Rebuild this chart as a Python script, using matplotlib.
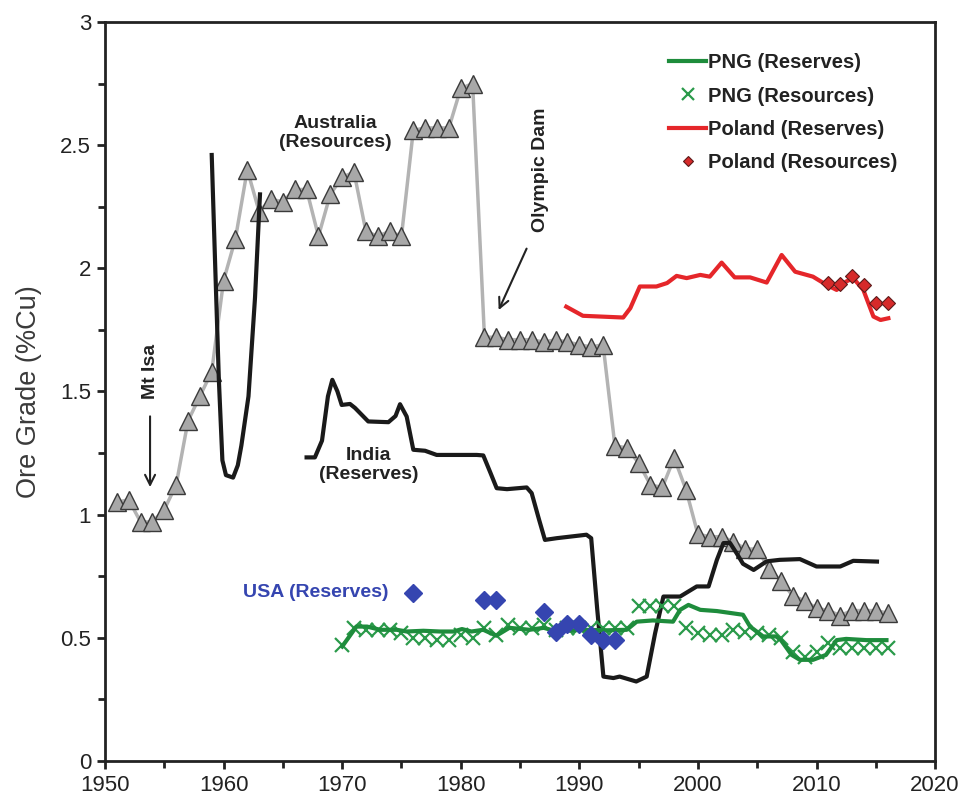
import matplotlib
matplotlib.use("Agg")
import matplotlib.pyplot as plt
from matplotlib.ticker import MultipleLocator

plt.rcParams['font.family'] = ['Liberation Sans', 'DejaVu Sans']

# Australia (Resources), yearly grades
aus_years = list(range(1951, 2017))
aus_grade = [1.05, 1.06, 0.97, 0.97, 1.02, 1.12, 1.38, 1.48, 1.58, 1.95,
             2.12, 2.40, 2.23, 2.28, 2.27, 2.32, 2.32, 2.13, 2.30, 2.37,
             2.39, 2.15, 2.13, 2.15, 2.13, 2.56, 2.57, 2.57, 2.57, 2.73,
             2.75, 1.72, 1.72, 1.71, 1.71, 1.71, 1.70, 1.71, 1.70, 1.69,
             1.68, 1.69, 1.28, 1.27, 1.21, 1.12, 1.11, 1.23, 1.10, 0.92,
             0.91, 0.91, 0.89, 0.86, 0.86, 0.78, 0.73, 0.67, 0.65, 0.62,
             0.61, 0.59, 0.61, 0.61, 0.61, 0.60]

# Early reserves excursion (1959-1963)
early_years = [1959.0, 1959.3, 1959.6, 1959.9, 1960.2, 1960.8, 1961.2, 1961.5,
               1962.1, 1962.65, 1963.07]
early_grade = [2.46, 2.00, 1.55, 1.22, 1.16, 1.15, 1.20, 1.28, 1.48, 1.88, 2.30]

# India (Reserves)
india_years = [1967.0, 1967.7, 1968.3, 1968.8, 1969.17, 1969.6, 1969.96, 1970.66,
               1971.08, 1972.2, 1973.9, 1974.5, 1974.88, 1975.44, 1976.0, 1976.99,
               1977.97, 1981.35, 1981.9, 1982.5, 1983.03, 1983.9, 1985.56, 1985.98,
               1986.6, 1987.1, 1988.1, 1990.6, 1991.0, 1991.5, 1992.03, 1992.87,
               1993.4, 1994.8, 1995.68, 1996.39, 1997.09, 1998.5, 1999.9, 2000.9,
               2001.6, 2002.15, 2002.7, 2003.3, 2003.8, 2004.7, 2005.8, 2006.9,
               2008.6, 2010.0, 2012.0, 2013.1, 2015.1]
india_grade = [1.232, 1.232, 1.30, 1.48, 1.547, 1.50, 1.445, 1.449,
               1.433, 1.378, 1.375, 1.40, 1.448, 1.398, 1.263, 1.259,
               1.242, 1.242, 1.240, 1.17, 1.107, 1.103, 1.110, 1.087,
               0.98, 0.897, 0.904, 0.918, 0.904, 0.62, 0.342, 0.336,
               0.342, 0.322, 0.342, 0.518, 0.667, 0.667, 0.708, 0.708,
               0.816, 0.884, 0.885, 0.84, 0.800, 0.775, 0.810, 0.816,
               0.819, 0.789, 0.789, 0.812, 0.809]

# PNG (Reserves)
png_res_years = [1970.0, 1971.2, 1972.1, 1973.2, 1974.6, 1975.45, 1976.85, 1978.25,
                 1979.4, 1980.1, 1980.9, 1981.9, 1983.0, 1984.1, 1985.8, 1987.0,
                 1988.1, 1990.1, 1992.4, 1994.0, 1994.84, 1996.2, 1997.9, 1998.5,
                 1999.2, 2000.2, 2001.6, 2003.8, 2004.4, 2005.5, 2006.6, 2007.0,
                 2007.9, 2008.6, 2009.7, 2010.8, 2011.7, 2012.5, 2014.2, 2015.9]
png_res_grade = [0.464, 0.545, 0.545, 0.532, 0.532, 0.525, 0.528, 0.525,
                 0.525, 0.535, 0.525, 0.532, 0.508, 0.540, 0.532, 0.540,
                 0.525, 0.532, 0.530, 0.532, 0.565, 0.570, 0.565, 0.613,
                 0.633, 0.613, 0.608, 0.593, 0.545, 0.505, 0.505, 0.490,
                 0.430, 0.410, 0.410, 0.430, 0.490, 0.495, 0.490, 0.490]

# PNG (Resources), yearly
png_rsc_years = list(range(1970, 2017))
png_rsc_grade = [0.47, 0.54, 0.53, 0.53, 0.53, 0.52, 0.50, 0.50, 0.49, 0.49,
                 0.51, 0.50, 0.54, 0.51, 0.55, 0.54, 0.54, 0.55, 0.53, 0.54,
                 0.54, 0.54, 0.54, 0.54, 0.54, 0.63, 0.63, 0.63, 0.63, 0.54,
                 0.52, 0.51, 0.51, 0.53, 0.525, 0.52, 0.51, 0.50, 0.44, 0.42,
                 0.44, 0.48, 0.46, 0.46, 0.46, 0.46, 0.46]

# Poland (Reserves)
pol_res_years = [1988.9, 1990.3, 1991.75, 1993.7, 1994.3, 1995.1, 1996.5, 1997.4,
                 1998.2, 1999.05, 2000.2, 2001.0, 2002.0, 2003.1, 2004.4, 2005.8,
                 2007.06, 2008.2, 2009.7, 2010.86, 2011.7, 2012.5, 2013.1, 2013.95,
                 2014.8, 2015.4, 2016.06]
pol_res_grade = [1.844, 1.807, 1.804, 1.800, 1.838, 1.926, 1.926, 1.940,
                 1.969, 1.960, 1.973, 1.966, 2.023, 1.963, 1.963, 1.942,
                 2.054, 1.986, 1.966, 1.932, 1.912, 1.946, 1.960, 1.912,
                 1.804, 1.790, 1.797]

# Poland (Resources)
pol_rsc_years = [2011, 2012, 2013, 2014, 2015, 2016]
pol_rsc_grade = [1.942, 1.935, 1.969, 1.932, 1.86, 1.86]

# USA (Reserves)
usa_years = [1976, 1982, 1983, 1987, 1988, 1989, 1990, 1991, 1992, 1993]
usa_grade = [0.681, 0.651, 0.654, 0.604, 0.521, 0.556, 0.556, 0.512, 0.491, 0.491]

fig = plt.figure(figsize=(9.65, 8.0), dpi=100)
ax = fig.add_axes([0.1088, 0.049, 0.8602, 0.9235])

ax.plot(aus_years, aus_grade, color='#b3b3b3', lw=2.5, zorder=2,
        marker='^', ms=13, mfc='#a8a8a8', mec='#3a3a3a', mew=1.0)
ax.plot(early_years, early_grade, color='#1a1a1a', lw=3, zorder=3)
ax.plot(india_years, india_grade, color='#1a1a1a', lw=3, zorder=3)
ax.plot(png_rsc_years, png_rsc_grade, ls='none', marker='x', ms=10, mew=1.6,
        color='#2a9a4a', zorder=4, label='PNG (Resources)')
ax.plot(png_res_years, png_res_grade, color='#1e8c3c', lw=3, zorder=4,
        label='PNG (Reserves)')
ax.plot(pol_res_years, pol_res_grade, color='#e5262a', lw=3, zorder=4,
        label='Poland (Reserves)')
ax.plot(pol_rsc_years, pol_rsc_grade, ls='none', marker='D', ms=7,
        mfc='#d62a2a', mec='#5a1a1a', mew=0.8, zorder=5, label='Poland (Resources)')
ax.plot(usa_years, usa_grade, ls='none', marker='D', ms=9, color='#3545b0',
        zorder=5)

ax.set_xlim(1950, 2020)
ax.set_ylim(0, 3)
ax.xaxis.set_major_locator(MultipleLocator(10))
ax.xaxis.set_minor_locator(MultipleLocator(5))
ax.yaxis.set_major_locator(MultipleLocator(0.5))
ax.yaxis.set_minor_locator(MultipleLocator(0.25))
ax.yaxis.set_major_formatter(plt.FuncFormatter(lambda v, p: f'{v:g}'))
ax.tick_params(which='both', direction='out', width=2, labelsize=16,
               top=False, right=False, colors='#222222')
ax.tick_params(which='major', length=6, pad=4)
ax.tick_params(which='minor', length=5)
for s in ax.spines.values():
    s.set_linewidth(2)
    s.set_color('#222222')
ax.set_ylabel('Ore Grade (%Cu)', fontsize=19.5, color='#3a3a3a', labelpad=13)

bold = dict(fontsize=14, fontweight='bold', color='#222222')
ax.text(1953.8, 1.58, 'Mt Isa', rotation=90, ha='center', va='center', **bold)
ax.annotate('', xy=(1953.8, 1.10), xytext=(1953.8, 1.41),
            arrowprops=dict(arrowstyle='->', color='#222222', lw=1.5,
                            mutation_scale=18))
ax.text(1969.4, 2.55, 'Australia\n(Resources)', ha='center', va='center',
        linespacing=1.15, **bold)
ax.text(1986.7, 2.4, 'Olympic Dam', rotation=90, ha='center', va='center', **bold)
ax.annotate('', xy=(1983.1, 1.82), xytext=(1985.65, 2.09),
            arrowprops=dict(arrowstyle='->', color='#222222', lw=1.5,
                            mutation_scale=18))
ax.text(1972.2, 1.20, 'India\n(Reserves)', ha='center', va='center',
        linespacing=1.15, **bold)
ax.text(1967.8, 0.685, 'USA (Reserves)', ha='center', va='center',
        fontsize=14, fontweight='bold', color='#3545b0')

handles, labels = ax.get_legend_handles_labels()
order = [labels.index(n) for n in ['PNG (Reserves)', 'PNG (Resources)',
                                   'Poland (Reserves)', 'Poland (Resources)']]
leg = ax.legend([handles[i] for i in order], [labels[i] for i in order],
                loc='upper right', bbox_to_anchor=(0.976, 0.982), frameon=False,
                prop=dict(size=14.5, weight='bold'), handlelength=1.8,
                handletextpad=0.1, labelspacing=0.7, markerscale=0.8)
for t in leg.get_texts():
    t.set_color('#222222')

fig.savefig('out.png', dpi=100)
